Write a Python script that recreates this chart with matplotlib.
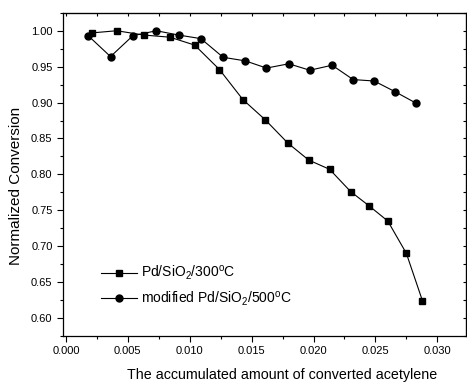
import matplotlib
matplotlib.use('Agg')
import matplotlib.pyplot as plt
from matplotlib.ticker import MultipleLocator, FormatStrFormatter, NullFormatter

plt.rcParams['font.family'] = ['Liberation Sans', 'DejaVu Sans']
plt.rcParams['mathtext.default'] = 'regular'

# Pd/SiO2/300C
x_300 = [0.0021, 0.0041, 0.0063, 0.0084, 0.0104, 0.0124, 0.0143, 0.0161, 0.0179,
         0.0196, 0.0213, 0.0230, 0.0245, 0.0260, 0.0275, 0.0288]
y_300 = [0.997, 1.000, 0.994, 0.991, 0.980, 0.946, 0.904, 0.876, 0.844,
         0.820, 0.807, 0.776, 0.756, 0.735, 0.690, 0.624]

# modified Pd/SiO2/500C
x_500 = [0.0018, 0.0036, 0.0054, 0.0073, 0.0091, 0.0109, 0.0127, 0.0145, 0.0162,
         0.0180, 0.0197, 0.0215, 0.0232, 0.0249, 0.0266, 0.0283]
y_500 = [0.993, 0.964, 0.993, 1.000, 0.994, 0.989, 0.963, 0.958, 0.948,
         0.954, 0.945, 0.952, 0.932, 0.930, 0.915, 0.899]

labels = [r'Pd/SiO$_2$/300$^o$C', r'modified Pd/SiO$_2$/500$^o$C']

fig = plt.figure(figsize=(4.67, 3.83), dpi=100)
ax = fig.add_axes([0.1349, 0.1227, 0.863, 0.8441])

ax.plot(x_300, y_300, 'k-s', lw=0.8, ms=4.5, label=labels[0])
ax.plot(x_500, y_500, 'k-o', lw=0.8, ms=5, label=labels[1])

ax.set_xlim(-0.00024, 0.03232)
ax.set_ylim(0.5749, 1.0251)
ax.xaxis.set_major_locator(MultipleLocator(0.005))
ax.xaxis.set_minor_locator(MultipleLocator(0.0025))
ax.yaxis.set_major_locator(MultipleLocator(0.05))
ax.yaxis.set_minor_locator(MultipleLocator(0.025))
ax.xaxis.set_major_formatter(FormatStrFormatter('%.3f'))
ax.yaxis.set_major_formatter(FormatStrFormatter('%.2f'))

ax.tick_params(which='major', direction='out', length=4, width=0.8, labelsize=8)
ax.tick_params(which='minor', direction='out', length=2, width=0.8)
for sp in ax.spines.values():
    sp.set_linewidth(0.9)

# small inward ticks on top and right edges
top = ax.secondary_xaxis('top')
top.xaxis.set_major_locator(MultipleLocator(0.0025))
top.xaxis.set_major_formatter(NullFormatter())
top.tick_params(direction='in', length=2, width=0.8)
right = ax.secondary_yaxis('right')
right.yaxis.set_major_locator(MultipleLocator(0.025))
right.yaxis.set_major_formatter(NullFormatter())
right.tick_params(direction='in', length=2, width=0.8)

ax.set_xlabel('The accumulated amount of converted acetylene', fontsize=10.3, va='baseline')
ax.xaxis.set_label_coords(0.543, -0.133)
ax.set_ylabel('Normalized Conversion', fontsize=11, va='center')
ax.yaxis.set_label_coords(-0.1166, 0.4655)

ax.legend(loc='lower left', bbox_to_anchor=(0.08, 0.07), frameon=False, fontsize=10,
          handlelength=2.6, handletextpad=0.3, labelspacing=0.5, borderaxespad=0)

fig.savefig('out.png', dpi=100)
